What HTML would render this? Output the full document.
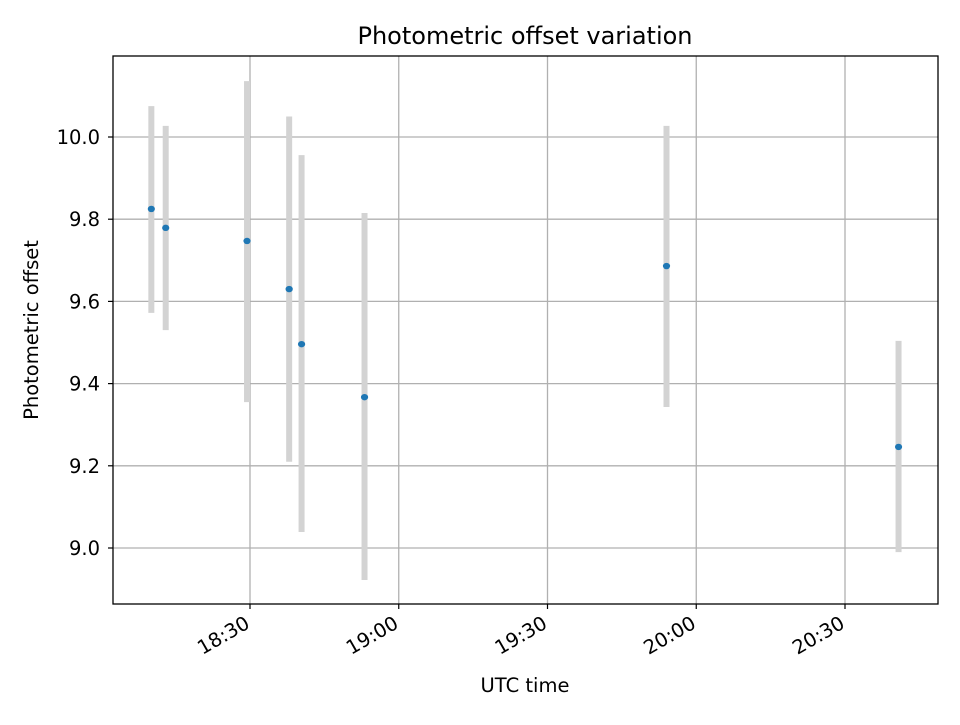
<!DOCTYPE html>
<html><head><meta charset="utf-8"><style>
body{margin:0;background:#fff}
svg text{font-family:"DejaVu Sans","Liberation Sans",sans-serif;fill:#000}
</style></head><body>
<svg id="chart" width="960" height="720" xmlns="http://www.w3.org/2000/svg">
<rect width="960" height="720" fill="#fff"/>
<text x="525" y="44" font-size="24" text-anchor="middle">Photometric offset variation</text>
<g id="grid"></g><g id="errs"></g><g id="pts"></g><g id="ticks"></g>
<rect x="113" y="56" width="825" height="548" fill="none" stroke="#000" stroke-width="1.3"/>
<text x="525" y="692" font-size="19.5" text-anchor="middle">UTC time</text>
<text transform="translate(38,330) rotate(-90)" font-size="19.5" text-anchor="middle">Photometric offset</text>
</svg>
<script>
// time in minutes after 18:00
const times = [10.1, 13.0, 29.4, 37.9, 40.4, 53.1, 114.0, 160.8];
const offsets = [9.825, 9.779, 9.747, 9.630, 9.496, 9.367, 9.686, 9.246];
const errLow = [9.572, 9.530, 9.355, 9.210, 9.039, 8.922, 9.343, 8.990];
const errHigh = [10.075, 10.027, 10.136, 10.050, 9.956, 9.815, 10.027, 9.504];
const yTicks = [9.0, 9.2, 9.4, 9.6, 9.8, 10.0];
const xTicks = [30, 60, 90, 120, 150];
const xTickLabels = ["18:30", "19:00", "19:30", "20:00", "20:30"];
const NS = "http://www.w3.org/2000/svg";
const xs = m => 250 + (m - 30) * (148.75 / 30);
const ys = v => 137 + (10 - v) * 411;
function mk(tag, attrs, parent){const e=document.createElementNS(NS,tag);for(const k in attrs)e.setAttribute(k,attrs[k]);document.getElementById(parent).appendChild(e);return e;}
yTicks.forEach(v=>{
  const y=ys(v);
  const g=mk('line',{x1:113,x2:938,y1:y,y2:y,stroke:'#b0b0b0','stroke-width':1.3},'grid');
  
  
  mk('line',{x1:108,x2:113,y1:y,y2:y,stroke:'#000','stroke-width':1.2},'ticks');
  const t=mk('text',{x:100,y:y+7,'font-size':19.5,'text-anchor':'end'},'ticks');
  t.textContent=v.toFixed(1);
  
  
});
xTicks.forEach((m,i)=>{
  const x=xs(m);
  const g=mk('line',{x1:x,x2:x,y1:56,y2:604,stroke:'#b0b0b0','stroke-width':1.3},'grid');
  
  
  mk('line',{x1:x,x2:x,y1:604,y2:609,stroke:'#000','stroke-width':1.2},'ticks');
  const t=mk('text',{transform:`translate(${x+1},${627}) rotate(-30)`,'font-size':19.5,'text-anchor':'end'},'ticks');
  t.textContent=xTickLabels[i];
  
  
});
times.forEach((m,i)=>{
  const x=xs(m);
  const e=mk('line',{x1:x,x2:x,y1:ys(errHigh[i]),y2:ys(errLow[i]),stroke:'#d3d3d3','stroke-width':6},'errs');
  
  
  const p=mk('ellipse',{cx:x,cy:ys(offsets[i]),rx:3.6,ry:3.2,fill:'#1f77b4'},'pts');
  
  
});
</script>
</body></html>
